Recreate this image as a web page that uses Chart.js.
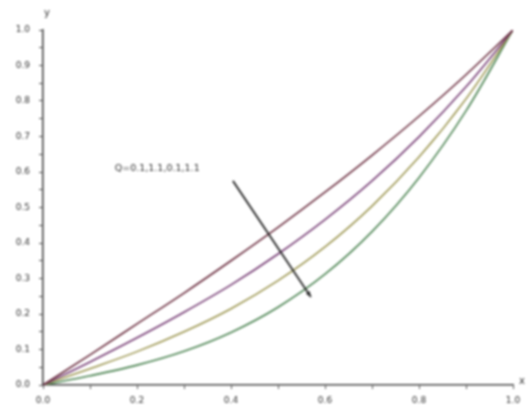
<!DOCTYPE html>
<html>
<head>
<meta charset="utf-8">
<script src="https://cdn.jsdelivr.net/npm/chart.js@4/dist/chart.umd.min.js"></script>
<style>
  html, body { margin: 0; padding: 0; background: #fff; }
  #wrap { width: 529px; height: 419px; }
  #plot { filter: blur(0.8px); }
</style>
</head>
<body>
<div id="wrap"><canvas id="plot" width="529" height="419"></canvas></div>
<script>
// x positions shared by every curve
var xs = [0, 0.1, 0.2, 0.3, 0.4, 0.5, 0.6, 0.7, 0.8, 0.9, 1.0];

// curves, top to bottom
var curve1 = [0, 0.085, 0.172, 0.259, 0.350, 0.444, 0.543, 0.647, 0.757, 0.874, 1.0];
var curve2 = [0, 0.065, 0.133, 0.205, 0.282, 0.369, 0.466, 0.575, 0.699, 0.840, 1.0];
var curve3 = [0, 0.046, 0.094, 0.150, 0.215, 0.294, 0.389, 0.504, 0.642, 0.806, 1.0];
var curve4 = [0, 0.026, 0.056, 0.095, 0.148, 0.219, 0.312, 0.432, 0.584, 0.772, 1.0];

var curveColors = ['#6a2c3e', '#763c74', '#9c9650', '#4c8452'];

var noteText = 'Q=0.1,1.1,0.1,1.1';
var noteAt = [0.243, 0.611];
var arrowFrom = [0.404, 0.575];
var arrowTo = [0.570, 0.248];

function toPoints(ys) {
  return xs.map(function (x, i) { return {x: x, y: ys[i]}; });
}

var datasets = [curve1, curve2, curve3, curve4].map(function (ys, i) {
  return {
    data: toPoints(ys),
    borderColor: curveColors[i],
    borderWidth: 1.6,
    pointRadius: 0,
    cubicInterpolationMode: 'monotone',
    fill: false
  };
});

// axis names and the labelled arrow
var extras = {
  id: 'extras',
  afterDatasetsDraw: function (chart) {
    var c = chart.ctx, sx = chart.scales.x, sy = chart.scales.y;
    c.save();
    c.fillStyle = '#333';
    c.font = '9.5px "DejaVu Sans"';
    c.textAlign = 'center';
    c.textBaseline = 'middle';
    c.fillText(noteText, sx.getPixelForValue(noteAt[0]), sy.getPixelForValue(noteAt[1]));
    c.font = '10px "DejaVu Sans"';
    c.fillText('y', sx.left + 4, sy.top - 17);
    c.fillText('x', sx.right + 9, sy.bottom - 4);

    var x0 = sx.getPixelForValue(arrowFrom[0]), y0 = sy.getPixelForValue(arrowFrom[1]);
    var x1 = sx.getPixelForValue(arrowTo[0]), y1 = sy.getPixelForValue(arrowTo[1]);
    c.strokeStyle = '#2a2a2a';
    c.lineWidth = 1.8;
    c.beginPath();
    c.moveTo(x0, y0);
    c.lineTo(x1, y1);
    c.stroke();
    var a = Math.atan2(y1 - y0, x1 - x0);
    c.fillStyle = '#222';
    c.beginPath();
    c.moveTo(x1, y1);
    c.lineTo(x1 - 6 * Math.cos(a - 0.4), y1 - 6 * Math.sin(a - 0.4));
    c.lineTo(x1 - 6 * Math.cos(a + 0.4), y1 - 6 * Math.sin(a + 0.4));
    c.closePath();
    c.fill();
    c.restore();
  }
};

var tickFont = {family: '"DejaVu Sans"', size: 9};

new Chart(document.getElementById('plot').getContext('2d'), {
  type: 'line',
  data: {datasets: datasets},
  options: {
    responsive: false,
    animation: false,
    layout: {padding: {left: 0, top: 30, right: 16, bottom: 0}},
    plugins: {legend: {display: false}, tooltip: {enabled: false}},
    scales: {
      x: {
        type: 'linear',
        min: 0, max: 1,
        afterFit: function (s) { s.height = 34; },
        border: {display: true, color: '#444', width: 1.6},
        grid: {display: true, drawOnChartArea: false, drawTicks: true, tickLength: 4, color: '#555'},
        ticks: {
          stepSize: 0.1, color: '#333', font: tickFont, maxRotation: 0, autoSkip: false, padding: 6,
          callback: function (v) {
            var k = Math.round(v * 10);
            return k % 2 === 0 ? (k / 10).toFixed(1) : '';
          }
        }
      },
      y: {
        min: 0, max: 1,
        afterFit: function (s) { s.width = 43; },
        border: {display: true, color: '#444', width: 1.6},
        grid: {display: true, drawOnChartArea: false, drawTicks: true, tickLength: 4, color: '#555'},
        ticks: {
          stepSize: 0.05, color: '#333', font: tickFont, autoSkip: false, padding: 9,
          callback: function (v) {
            var k = Math.round(v * 20);
            return k % 2 === 0 ? (k / 20).toFixed(1) : '';
          }
        }
      }
    }
  },
  plugins: [extras]
});
</script>
</body>
</html>
